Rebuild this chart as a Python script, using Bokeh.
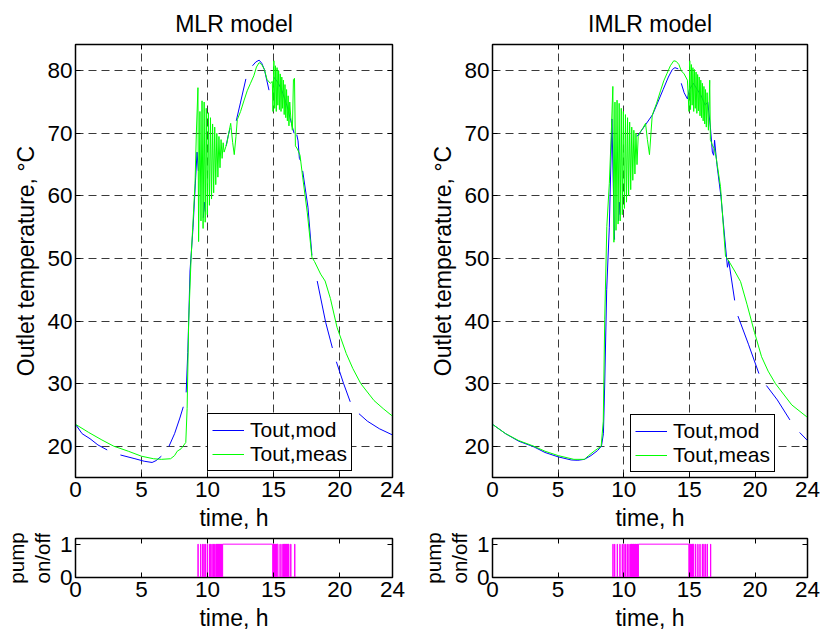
import numpy as np
from bokeh.plotting import figure
from bokeh.models import Range1d, FixedTicker, LinearAxis, CustomLabelingPolicy
from bokeh.layouts import column, row
from bokeh.embed import file_html
from bokeh.resources import INLINE

nan = float("nan")
FONT = "Liberation Sans"

# ---------------- data ----------------
x_ticks = [0, 5, 10, 15, 20, 24]
x_grid = [5, 10, 15, 20]
y_ticks = [20, 30, 40, 50, 60, 70, 80]
pump_ticks = [0, 1]
titles = ["MLR model", "IMLR model"]
series_names = ["Tout,mod", "Tout,meas"]
x_label = "time, h"
y_label = "Outlet temperature, \u00b0C"
pump_label_lines = ["pump", "on/off"]

# MLR model: measured outlet temperature
mlr_meas_t = [0, 1, 2, 2.9, 4, 5, 5.9, 6.5, 7.2, 7.5, 7.7, 8.0, 8.35, 8.45, 8.57, 8.75, 8.85,
              9.05, 9.15, 9.27, 9.32, 9.42, 9.50, 9.58, 9.66, 9.74, 9.82, 9.90, 9.98, 10.06,
              10.14, 10.22, 10.30, 10.38, 10.46, 10.54, 10.62, 10.70, 10.78, 10.86, 10.94,
              11.02, 11.10, 11.18, 11.25, 11.45, 11.6, 11.75, 11.9, 12.02, 12.15, 12.25, 12.5,
              12.75, 13.0, 13.25, 13.5, 13.7, 13.9, 14.1, 14.3, 14.5, 14.75, 14.9, 14.95, 15.02,
              15.08, 15.14, 15.20, 15.26, 15.32, 15.38, 15.44, 15.50, 15.56, 15.62, 15.68, 15.74,
              15.80, 15.86, 15.92, 15.98, 16.04, 16.10, 16.16, 16.22, 16.30, 16.42, 16.5, 16.58,
              16.65, 16.8, 17.0, 17.2, 17.55, 17.9, 18.1, 18.56, 18.9, 19.3, 19.8, 20.0, 20.5,
              21.0, 21.6, 22.6, 23.3, 24.0]
mlr_meas_T = [23.5, 22.2, 21.0, 20.0, 19.2, 18.4, 18.0, 17.9, 18.0, 18.5, 19.2, 19.6, 20.6, 26.0, 40.0, 50.0, 54.0,
              62.0, 70.0, 77.3, 52.7, 73.5, 56.0, 75.2, 54.8, 75.0, 55.8, 74.0, 57.0, 73.3,
              58.5, 72.5, 59.5, 71.5, 60.5, 71.0, 61.8, 70.0, 63.0, 69.5, 64.5,
              69.0, 66.0, 68.5, 67.0, 68.3, 70.0, 71.6, 68.5, 66.6, 69.5, 72.2, 73.5,
              75.2, 76.8, 78.0, 79.2, 80.6, 81.3, 81.0, 80.2, 78.6, 78.0, 78.3, 73.5, 81.6,
              74.0, 80.8, 73.5, 80.5, 74.5, 80.0, 73.8, 79.5, 73.5, 79.0, 74.0, 78.5,
              73.0, 77.8, 72.5, 77.0, 72.0, 76.0, 71.2, 75.0, 72.5, 70.5, 78.6, 78.8,
              68.0, 67.5, 66.5, 63.0, 57.3, 50.2, 49.5, 47.5, 46.4, 43.6, 39.0, 37.8, 34.8,
              32.4, 30.0, 27.3, 26.0, 24.8]

# MLR model: modelled outlet temperature (nan where the curve is broken)
mlr_mod_t = [0, 0.5, 1.1, 1.7, 2.4, nan, 3.4, 4.5, 5.2, 5.8, 6.1, 6.5, nan, 7.07, 7.5, 7.9, 8.16, nan,
             8.38, 8.5, 8.57, 8.67, 8.9, 9.1, 9.2, 9.3, nan, 9.68, 9.75, 9.82, nan,
             11.4, 11.55, 11.7, nan, 12.17, 12.5, 12.9, nan, 13.4, 13.65, 13.9, 14.1, 14.3, 14.65, nan,
             15.0, 15.3, 15.6, 16.0, 16.3, 16.55, nan, 16.75, 16.85, 16.95, 17.05, nan,
             17.2, 17.6, 17.9, nan, 18.3, 18.94, 19.45, nan, 19.75, 20.3, 20.8, nan,
             21.46, 22.1, 23.0, 24.0]
mlr_mod_T = [23.5, 22.0, 21.2, 20.2, 19.4, nan, 18.6, 18.0, 17.6, 17.4, 17.7, 18.4, nan, 19.95, 22.0, 24.5, 26.3, nan,
             28.6, 35.0, 40.0, 48.0, 55.0, 63.0, 67.0, 64.0, nan, 56.5, 59.0, 57.5, nan,
             68.0, 69.5, 70.8, nan, 72.0, 75.0, 78.7, nan, 80.8, 81.4, 81.7, 81.2, 80.2, 76.9, nan,
             79.0, 78.2, 77.0, 74.5, 72.0, 70.0, nan, 69.8, 68.8, 66.0, 65.6, nan,
             64.0, 58.2, 50.5, nan, 46.4, 39.8, 35.7, nan, 33.5, 30.0, 27.1, nan,
             25.2, 24.0, 22.8, 21.8]

# IMLR model: measured outlet temperature
imlr_meas_t = [0, 1, 2, 3.15, 4, 5, 6.2, 7.0, 7.32, 7.8, 8.28, 8.44, 8.55, 8.71, 8.9, 9.05, 9.17, 9.25,
               9.33, 9.41, 9.49, 9.57, 9.65, 9.73, 9.81, 9.89, 9.97, 10.05, 10.13, 10.21, 10.29,
               10.37, 10.45, 10.53, 10.61, 10.69, 10.77, 10.85, 10.93, 11.01, 11.1, 11.28, 11.45,
               11.66, 11.8, 11.96, 12.17, 12.5, 12.8, 13.05, 13.3, 13.55, 13.81, 14.0, 14.2, 14.38,
               14.6, 14.85, 14.97, 15.03, 15.09, 15.15, 15.21, 15.27, 15.33, 15.39, 15.45, 15.51,
               15.57, 15.63, 15.69, 15.75, 15.81, 15.87, 15.93, 15.99, 16.05, 16.11, 16.17, 16.23,
               16.29, 16.35, 16.45, 16.55, 16.6, 16.77, 16.9, 17.05, 17.37, 17.75, 18.0, 18.45,
               18.9, 19.4, 19.96, 20.5, 21.0, 21.56, 22.8, 24.0]
imlr_meas_T = [23.5, 22.0, 20.9, 20.0, 19.2, 18.5, 17.9, 17.9, 18.5, 19.3, 20.0, 24.0, 40.3, 55.1, 62.0, 70.0, 77.5, 52.6,
               75.0, 54.5, 75.3, 55.5, 74.8, 56.0, 74.0, 57.0, 73.5, 58.0, 73.0, 59.0, 72.5,
               60.0, 71.8, 61.0, 71.0, 62.5, 70.5, 63.5, 70.0, 65.0, 69.5, 70.3, 70.8,
               71.6, 69.0, 66.6, 72.9, 74.8, 76.8, 78.4, 79.6, 80.8, 81.6, 81.5, 81.0, 80.0,
               79.5, 78.5, 73.5, 81.6, 73.8, 81.0, 74.5, 80.5, 73.5, 80.2, 74.0, 79.8,
               73.2, 79.4, 73.6, 79.0, 72.8, 78.5, 72.5, 78.0, 72.0, 77.5, 71.5, 77.0,
               71.0, 76.5, 70.5, 78.5, 69.0, 68.0, 67.6, 66.0, 61.5, 50.4, 49.6, 48.0,
               46.3, 42.6, 38.2, 34.3, 32.0, 30.0, 26.6, 24.6]

# IMLR model: modelled outlet temperature
imlr_mod_t = [0, 1, 2, 3.15, 4, 5, 6.0, 6.5, 7.0, 7.5, 8.0, 8.3, 8.45, 8.55, 8.7, 8.9, 9.1, 9.2, 9.3, nan,
              9.6, 9.66, 9.72, nan, 11.0, 11.3, 11.7, 12.2, 12.6, 13.0, 13.4, 13.7, 13.9, 14.15, nan,
              14.38, 14.6, 14.85, 15.0, 15.3, 15.6, 15.9, 16.2, 16.4, 16.6, 16.75, 16.85, 16.92,
              17.1, 17.4, 17.9, 18.0, 18.45, nan, 18.7, 19.5, 20.3, nan, 20.87, 21.7, 22.66, nan,
              23.4, 24.0]
imlr_mod_T = [23.5, 22.0, 20.8, 19.9, 19.0, 18.3, 17.8, 17.75, 17.9, 18.5, 19.3, 20.0, 22.0, 30.0, 45.0, 55.0, 72.3, 62.0, 53.0, nan,
              56.0, 59.0, 57.0, nan, 69.5, 70.3, 71.5, 73.0, 75.0, 77.0, 79.0, 80.2, 80.5, 80.3, nan,
              78.0, 76.5, 75.5, 77.0, 78.0, 77.0, 76.0, 74.5, 75.0, 71.0, 67.0, 66.5, 68.9,
              65.0, 60.0, 48.6, 49.6, 43.3, nan, 40.8, 36.3, 31.6, nan, 29.7, 27.4, 24.2, nan,
              22.2, 20.9]

# pump on/off switching times (h)
mlr_pump_on = [9.27, 9.47, 9.62, 9.72, 9.82, 9.97, 10.13, 10.23, 10.33, 10.43, 10.53, 10.63, 10.68,
               10.73, 10.78, 10.83, 10.88, 10.93, 10.98, 11.03, 11.08, 11.14, 14.97, 15.02, 15.07,
               15.12, 15.17, 15.22, 15.27, 15.48, 15.63, 15.73, 15.78, 15.83, 15.88, 15.93, 15.98,
               16.03, 16.08, 16.13, 16.29, 16.59]
mlr_pump_off = [9.29, 9.49, 9.64, 9.74, 9.84, 9.99, 10.15, 10.25, 10.35, 10.45, 10.55, 10.65, 10.70,
                10.75, 10.80, 10.85, 10.90, 10.95, 11.00, 11.05, 11.10, 14.93, 14.99, 15.04, 15.09,
                15.14, 15.19, 15.24, 15.33, 15.50, 15.65, 15.75, 15.80, 15.85, 15.90, 15.95, 16.00,
                16.05, 16.10, 16.16, 16.31, 16.61]
imlr_pump_on = [9.17, 9.30, 9.50, 9.70, 9.88, 10.01, 10.13, 10.26, 10.39, 10.51, 10.56, 10.61, 10.66,
                10.71, 10.76, 10.81, 10.86, 10.91, 10.96, 11.01, 11.06, 11.12, 15.00, 15.05, 15.10,
                15.15, 15.20, 15.25, 15.30, 15.47, 15.64, 15.80, 15.98, 16.10, 16.23, 16.36, 16.61]
imlr_pump_off = [9.19, 9.32, 9.52, 9.72, 9.90, 10.03, 10.15, 10.28, 10.41, 10.53, 10.58, 10.63, 10.68,
                 10.73, 10.78, 10.83, 10.88, 10.93, 10.98, 11.03, 11.08, 14.96, 15.02, 15.07, 15.12,
                 15.17, 15.22, 15.27, 15.34, 15.49, 15.66, 15.82, 16.00, 16.12, 16.25, 16.38, 16.63]

# ---------------- layout constants (pixels) ----------------
FS = "23px"
NO_LABELS = "for (const i of indices) { indices.unset(i) }\nreturn indices"
TOP_B = 43
MAIN_FRAME_H = 437
MAIN_BOTTOM_B = 53
MAIN_H = TOP_B + MAIN_FRAME_H + MAIN_BOTTOM_B      # 533
PUMP_FRAME_H = 41
PUMP_TOP_B = 538 - MAIN_H
PUMP_H = 633 - MAIN_H
PUMP_BOTTOM_B = PUMP_H - PUMP_TOP_B - PUMP_FRAME_H


def set_label_font(ax, size=FS):
    ax.axis_label_text_font = FONT
    ax.axis_label_text_font_size = size
    ax.axis_label_text_font_style = "normal"
    ax.axis_label_text_color = "black"


def style_axis(ax, ticks, show_labels=True):
    ax.ticker = FixedTicker(ticks=ticks)
    ax.minor_tick_line_color = None
    ax.major_tick_in = 5
    ax.major_tick_out = 0
    ax.major_tick_line_color = "black"
    ax.axis_line_color = "black"
    ax.major_label_text_font = FONT
    ax.major_label_text_color = "black"
    if show_labels:
        ax.major_label_text_font_size = "22.5px"
        ax.major_label_standoff = 4
    else:
        ax.major_label_text_font_size = "0px"
        ax.major_label_standoff = 0
        ax.major_label_policy = CustomLabelingPolicy(code=NO_LABELS)


def add_box_ticks(p, xt, yt):
    top = LinearAxis()
    style_axis(top, xt, show_labels=False)
    p.add_layout(top, "above")
    right = LinearAxis()
    style_axis(right, yt, show_labels=False)
    p.add_layout(right, "right")


def base_figure(width, height, yr, bl, br, bt, bb):
    p = figure(width=width, height=height, x_range=Range1d(0, 24), y_range=yr,
               output_backend="svg", toolbar_location=None,
               min_border_left=bl, min_border_right=br, min_border_top=bt, min_border_bottom=bb)
    p.outline_line_color = "black"
    p.outline_line_width = 1.5
    p.background_fill_color = "white"
    p.border_fill_color = "white"
    style_axis(p.xaxis[0], x_ticks)
    p.xaxis[0].axis_label = x_label
    p.xaxis[0].axis_label_standoff = 5
    set_label_font(p.xaxis[0])
    return p


def make_main(title, meas_t, meas_T, mod_t, mod_T, width, bl, br, leg_loc):
    p = base_figure(width, MAIN_H, Range1d(15, 84.2), bl, br, TOP_B, MAIN_BOTTOM_B)
    p.title.text = title
    p.title.align = "center"
    p.title.text_font = FONT
    p.title.text_font_size = FS
    p.title.text_font_style = "normal"
    p.title.text_color = "black"
    p.title.standoff = 16
    style_axis(p.yaxis[0], y_ticks)
    ya = p.yaxis[0]
    ya.axis_label = y_label
    set_label_font(ya)
    ya.axis_label_standoff = 5
    ya.major_label_standoff = 3
    add_box_ticks(p, x_ticks, y_ticks)
    p.xgrid.ticker = FixedTicker(ticks=x_grid)
    p.ygrid.ticker = FixedTicker(ticks=y_ticks)
    for g in (p.xgrid, p.ygrid):
        g.grid_line_color = "#3a3a3a"
        g.grid_line_alpha = 1.0
        g.grid_line_dash = "8 5"
        g.grid_line_width = 1
    p.line(np.array(mod_t, dtype=float), np.array(mod_T, dtype=float),
           line_color="#0000ff", line_width=1, legend_label=series_names[0])
    p.line(np.array(meas_t, dtype=float), np.array(meas_T, dtype=float),
           line_color="#00ff00", line_width=1, legend_label=series_names[1])
    leg = p.legend[0]
    leg.location = leg_loc
    leg.label_text_font = FONT
    leg.label_text_font_size = "21px"
    leg.label_text_color = "black"
    leg.border_line_color = "black"
    leg.border_line_width = 1
    leg.border_line_alpha = 1
    leg.background_fill_color = "white"
    leg.background_fill_alpha = 1
    leg.glyph_width = 32
    leg.glyph_height = 24
    leg.label_height = 24
    leg.label_standoff = 6
    leg.padding = 4
    leg.spacing = 0
    leg.margin = 0
    return p


def make_pump(on, off, width, bl, br):
    xs = [0.0]
    ys = [0.0]
    for a, b in zip(on, off):
        xs += [a, a, b, b]
        ys += [0, 1, 1, 0]
    xs.append(24.0)
    ys.append(0.0)
    q = base_figure(width, PUMP_H, Range1d(0, 1.17), bl, br, PUMP_TOP_B, PUMP_BOTTOM_B)
    q.grid.visible = False
    style_axis(q.yaxis[0], pump_ticks)
    inner = q.yaxis[0]
    inner.major_label_standoff = 3
    inner.axis_label = pump_label_lines[1]
    inner.axis_label_standoff = 3
    set_label_font(inner, "20.5px")
    outer = LinearAxis(ticker=FixedTicker(ticks=[]), axis_label=pump_label_lines[0])
    outer.axis_line_color = None
    outer.major_tick_in = 0
    outer.major_tick_out = 0
    outer.minor_tick_line_color = None
    outer.major_label_standoff = 0
    outer.axis_label_standoff = 0
    set_label_font(outer, "20.5px")
    q.add_layout(outer, "left")
    add_box_ticks(q, x_ticks, pump_ticks)
    q.line(xs, ys, line_color="#ff00ff", line_width=1)
    return q


p1 = make_main(titles[0], mlr_meas_t, mlr_meas_T, mlr_mod_t, mlr_mod_T, 418, 75, 26, (132, 6))
p2 = make_main(titles[1], imlr_meas_t, imlr_meas_T, imlr_mod_t, imlr_mod_T, 402, 74, 13, (138, 5))
q1 = make_pump(mlr_pump_on, mlr_pump_off, 418, 75, 26)
q2 = make_pump(imlr_pump_on, imlr_pump_off, 402, 74, 13)

layout = column(row(p1, p2), row(q1, q2))
open("out.html", "w").write(file_html(layout, INLINE))
